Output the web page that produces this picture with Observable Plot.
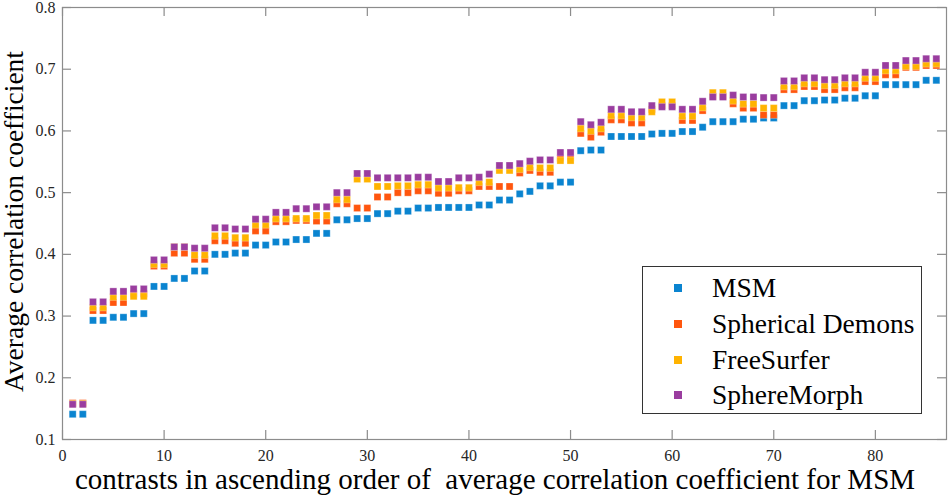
<!DOCTYPE html>
<html><head><meta charset="utf-8">
<script src="https://cdn.jsdelivr.net/npm/d3@7"></script>
<script src="https://cdn.jsdelivr.net/npm/@observablehq/plot@0.6"></script>
<style>
body{margin:0;background:#fff;}
#wrap{position:relative;width:948px;height:496px;}
svg text{white-space:pre;}
.legend{position:absolute;left:642px;top:266px;width:280px;height:148px;border:1px solid #333;background:#fff;box-sizing:border-box;font-family:"Liberation Serif",serif;font-size:27.5px;color:#000;}
.legend .row{position:absolute;left:0;height:30px;line-height:30px;}
.legend .sw{position:absolute;left:31px;top:11px;width:8px;height:8px;}
.legend .lb{position:absolute;left:69px;top:0;white-space:nowrap;font-family:"Liberation Serif",serif;}
</style></head>
<body><div id="wrap"></div>
<script>
const seriesNames = ["MSM", "Spherical Demons", "FreeSurfer", "SphereMorph"];
const seriesColors = ["#0a84d0", "#ff560e", "#ffb300", "#9a3d9f"];
const xTicks = [0, 10, 20, 30, 40, 50, 60, 70, 80];
const yTicks = [0.1, 0.2, 0.3, 0.4, 0.5, 0.6, 0.7, 0.8];
const xTitle = "contrasts in ascending order of  average correlation coefficient for MSM";
const yTitle = "Average correlation coefficient";

const msm = [0.141,0.141,0.293,0.293,0.298,0.298,0.304,0.304,0.348,0.348,
0.361,0.361,0.373,0.373,0.400,0.400,0.402,0.402,0.415,0.415,
0.420,0.420,0.424,0.424,0.434,0.434,0.456,0.456,0.458,0.458,
0.466,0.466,0.470,0.470,0.475,0.475,0.476,0.476,0.476,0.476,
0.480,0.480,0.488,0.488,0.498,0.502,0.511,0.511,0.517,0.517,
0.568,0.569,0.569,0.591,0.591,0.591,0.591,0.595,0.596,0.596,
0.599,0.599,0.606,0.615,0.615,0.615,0.619,0.619,0.621,0.621,
0.641,0.641,0.649,0.649,0.650,0.650,0.653,0.653,0.657,0.657,
0.675,0.675,0.675,0.675,0.682,0.682];
const sd = [0.159,0.159,0.309,0.309,0.322,0.322,0.336,0.336,0.381,0.381,
0.402,0.402,0.392,0.392,0.422,0.422,0.418,0.418,0.438,0.438,
0.453,0.453,0.455,0.455,0.454,0.454,0.482,0.482,0.475,0.475,
0.493,0.493,0.500,0.500,0.503,0.503,0.499,0.499,0.503,0.503,
0.510,0.510,0.510,0.510,0.532,0.536,0.533,0.533,0.556,0.556,
0.596,0.590,0.598,0.618,0.618,0.613,0.613,0.635,0.641,0.641,
0.617,0.617,0.633,0.656,0.656,0.644,0.637,0.637,0.626,0.626,
0.667,0.667,0.672,0.672,0.667,0.667,0.670,0.670,0.680,0.680,
0.691,0.691,0.703,0.703,0.706,0.706];
const fs = [0.158,0.158,0.314,0.314,0.331,0.331,0.332,0.332,0.384,0.384,
0.412,0.412,0.399,0.399,0.430,0.430,0.427,0.427,0.448,0.448,
0.458,0.458,0.458,0.458,0.463,0.463,0.489,0.489,0.522,0.522,
0.510,0.510,0.511,0.511,0.513,0.513,0.508,0.508,0.508,0.508,
0.517,0.517,0.536,0.536,0.538,0.541,0.540,0.540,0.552,0.552,
0.604,0.600,0.604,0.625,0.625,0.622,0.622,0.631,0.647,0.647,
0.624,0.624,0.638,0.662,0.662,0.649,0.644,0.644,0.637,0.637,
0.672,0.672,0.677,0.677,0.674,0.674,0.677,0.677,0.686,0.686,
0.698,0.698,0.705,0.705,0.709,0.709];
const sm = [0.157,0.157,0.323,0.323,0.340,0.340,0.344,0.344,0.391,0.391,
0.412,0.412,0.410,0.410,0.443,0.443,0.441,0.441,0.457,0.457,
0.468,0.468,0.474,0.474,0.477,0.477,0.500,0.500,0.531,0.531,
0.524,0.524,0.524,0.524,0.525,0.525,0.518,0.518,0.524,0.524,
0.525,0.530,0.544,0.544,0.547,0.551,0.553,0.553,0.565,0.565,
0.615,0.610,0.614,0.635,0.635,0.631,0.631,0.641,0.639,0.639,
0.635,0.635,0.648,0.655,0.655,0.658,0.655,0.655,0.654,0.654,
0.681,0.681,0.686,0.686,0.683,0.683,0.686,0.686,0.695,0.695,
0.706,0.706,0.714,0.714,0.717,0.717];

const allSeries = [msm, sd, fs, sm];
const data = [];
allSeries.forEach((vals, s) => vals.forEach((v, i) => data.push({idx: i + 1, value: v, series: seriesNames[s]})));

const W = 948, H = 496;
const mL = 62, mR = 2, mT = 7, mB = 57;
const pw = W - mL - mR, ph = H - mT - mB;
const tick = 9;
const axisGray = "#8c8c8c";

const chart = Plot.plot({
  width: W, height: H,
  marginLeft: mL, marginRight: mR, marginTop: mT, marginBottom: mB,
  style: {fontFamily: "'Liberation Serif', serif", background: "#fff", overflow: "visible"},
  x: {domain: [0, 87]},
  y: {domain: [0.1, 0.8]},
  color: {domain: seriesNames, range: seriesColors},
  marks: [
    Plot.frame({stroke: axisGray, strokeWidth: 1.2}),
    Plot.tickX(xTicks, {x: d => d, insetTop: ph - tick, stroke: axisGray, strokeWidth: 1.2}),
    Plot.tickX(xTicks, {x: d => d, insetBottom: ph - tick, stroke: axisGray, strokeWidth: 1.2}),
    Plot.tickY(yTicks, {y: d => d, insetRight: pw - tick, stroke: axisGray, strokeWidth: 1.2}),
    Plot.tickY(yTicks, {y: d => d, insetLeft: pw - tick, stroke: axisGray, strokeWidth: 1.2}),
    Plot.axisX(xTicks, {tickSize: 0, tickPadding: 10.5, fontSize: 16, fill: "#262626", label: null}),
    Plot.axisY(yTicks, {tickSize: 0, tickPadding: 7, fontSize: 16, fill: "#262626", label: null, tickFormat: d3.format(".1f")}),
    Plot.dot(data, {x: "idx", y: "value", fill: "series", symbol: "square", r: 3.95, stroke: "#fff", strokeOpacity: 0.35, strokeWidth: 0.8}),
    Plot.text([xTitle], {frameAnchor: "bottom", textAnchor: "middle", lineAnchor: "middle", dx: -9.5, dy: 40, fontSize: 29, fill: "#000", text: d => d}),
    Plot.text([yTitle], {frameAnchor: "left", textAnchor: "middle", lineAnchor: "middle", dx: -48, dy: -2, rotate: -90, fontSize: 27.5, fill: "#000", text: d => d})
  ]
});

const wrap = document.getElementById("wrap");
wrap.appendChild(chart);

const leg = document.createElement("div");
leg.className = "legend";
const rowTops = [6, 42, 77.5, 113];
seriesNames.forEach((name, i) => {
  const row = document.createElement("div");
  row.className = "row";
  row.style.top = rowTops[i] + "px";
  row.style.width = "100%";
  const sw = document.createElement("div");
  sw.className = "sw";
  sw.style.background = seriesColors[i];
  const lb = document.createElement("div");
  lb.className = "lb";
  lb.textContent = name;
  row.appendChild(sw); row.appendChild(lb);
  leg.appendChild(row);
});
wrap.appendChild(leg);
</script>
</body></html>
